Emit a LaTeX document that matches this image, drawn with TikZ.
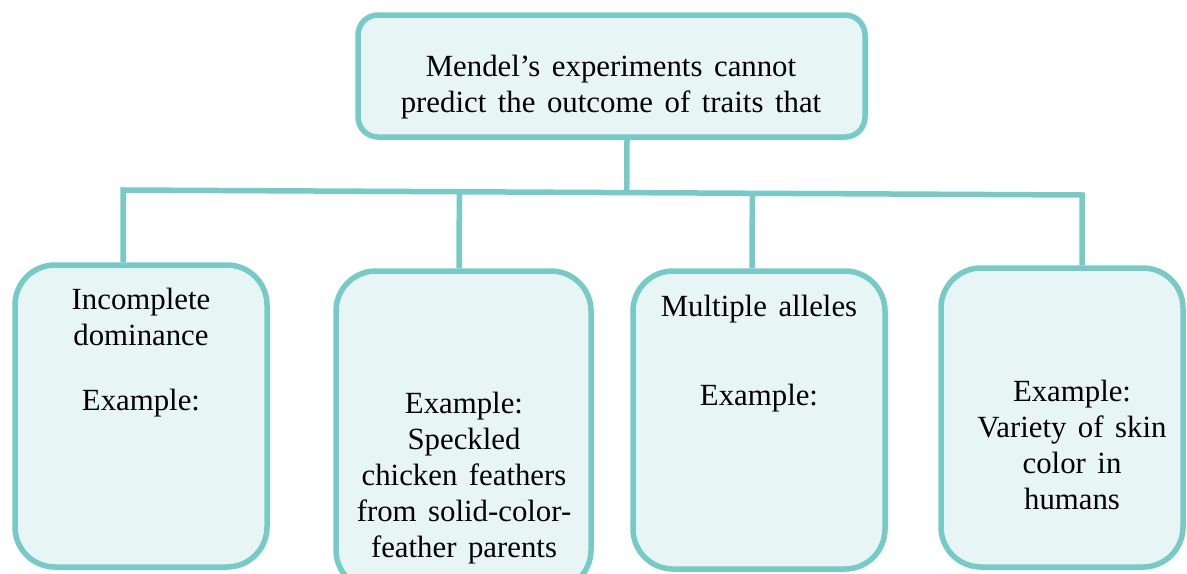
\documentclass[tikz,border=0pt]{standalone}
\usepackage{fontspec}
\setmainfont{Liberation Serif}[WordSpace=1.5]
\usetikzlibrary{calc}
\definecolor{edgeteal}{HTML}{76CBC7}
\definecolor{boxfill}{HTML}{E7F5F4}
\begin{document}
\begin{tikzpicture}[x=0.5pt,y=-0.5pt,
  topbox/.style={draw=edgeteal, fill=boxfill, line width=2.75pt, rounded corners=10pt, inner sep=0pt},
  leafbox/.style={draw=edgeteal, fill=boxfill, line width=2.75pt, rounded corners=20pt, inner sep=0pt},
  conn/.style={draw=edgeteal, line width=2.75pt},
  txt/.style={font=\fontsize{15.4pt}{18pt}\selectfont, align=center, inner sep=0pt, anchor=north}]
\clip (0,0) rectangle (1187,573);
\fill[white] (0,0) rectangle (1187,573);
% boxes
\node[topbox, minimum width=253.5pt, minimum height=61pt] (top) at (611.5,76) {};
\node[leafbox, minimum width=126pt, minimum height=151pt] (b1) at (141,416) {};
\node[leafbox, minimum width=127.5pt, minimum height=159.5pt] (b2) at (463.5,430.5) {};
\node[leafbox, minimum width=126pt, minimum height=149pt] (b3) at (759,420) {};
\node[leafbox, minimum width=121pt, minimum height=149.5pt] (b4) at (1062,417.5) {};
% connectors
\coordinate (busL) at (123,190);
\coordinate (busR) at (1082,195);
\coordinate (s0) at ([xshift=7.75pt]top.south);
\coordinate (s2) at ([xshift=-2.25pt]b2.north);
\coordinate (s3) at ([xshift=-3.5pt]b3.north);
\draw[conn] ([xshift=-9pt]b1.north) -- (busL) -- (busR) -- ([xshift=10pt]b4.north);
\draw[conn] (s0) -- ($(busL)!(s0)!(busR)$);
\draw[conn] (s2) -- ($(busL)!(s2)!(busR)$);
\draw[conn] (s3) -- ($(busL)!(s3)!(busR)$);
% texts
\node[txt] (ttop) at (611,55) {Mendel’s experiments cannot\\predict the outcome of traits that};
\node[txt] (t1) at (141,288) {Incomplete\\dominance\\[14.5pt]Example:};
\node[txt] (t2) at (464,392) {Example:\\Speckled\\chicken feathers\\from solid-color-\\feather parents};
\node[txt] (t3) at (759,295) {Multiple alleles\\[26.5pt]Example:};
\node[txt] (t4) at (1072,380) {Example:\\Variety of skin\\color in\\humans};
\end{tikzpicture}
\end{document}
